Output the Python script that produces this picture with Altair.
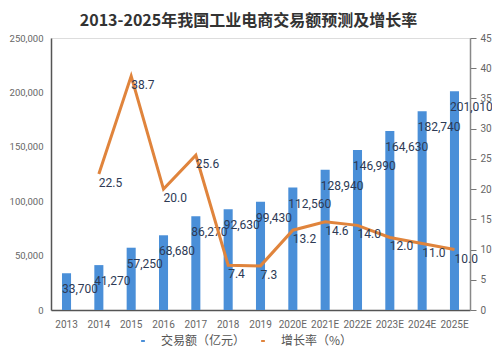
import altair as alt
import pandas as pd

years = ["2013", "2014", "2015", "2016", "2017", "2018", "2019",
         "2020E", "2021E", "2022E", "2023E", "2024E", "2025E"]
volume = [33700, 41270, 57250, 68680, 86270, 92630, 99430,
          112560, 128940, 146990, 164630, 182740, 201010]
growth = [None, 22.5, 38.7, 20.0, 25.6, 7.4, 7.3,
          13.2, 14.6, 14.0, 12.0, 11.0, 10.0]

s_bar = "交易额（亿元）"
s_line = "增长率（%）"

df = pd.DataFrame({
    "year": years,
    "volume": volume,
    "growth": growth,
    "s1": s_bar,
    "s2": s_line,
})
df["vol_label"] = [f"{v:,}" for v in volume]
df["g_label"] = [("" if g is None else f"{g:.1f}") for g in growth]

BLUE = "#4a8fd8"
ORANGE = "#e0843c"
TXT = "#2d3a55"
CJK = "Noto Sans CJK SC"

x = alt.X("year:N", sort=years, title=None,
          scale=alt.Scale(paddingInner=0.72, paddingOuter=0.34),
          axis=alt.Axis(labelAngle=0, labelColor="#666", labelFontSize=10,
                        labelFont="Roboto", ticks=False, domainColor="#555",
                        domainWidth=1.5, labelPadding=9, grid=False))

color = alt.Color("s:N", title=None,
                  scale=alt.Scale(domain=[s_bar, s_line], range=[BLUE, ORANGE]),
                  legend=alt.Legend(orient="none", legendX=86, legendY=297,
                                    direction="horizontal",
                                    symbolType="stroke", symbolStrokeWidth=2,
                                    symbolSize=14, labelFont=CJK,
                                    labelFontSize=12, labelColor="#555",
                                    labelOffset=12,
                                    columnPadding=11, padding=0))

y_left = alt.Y("volume:Q", title=None,
               scale=alt.Scale(domain=[0, 250000], nice=False),
               axis=alt.Axis(values=[0, 50000, 100000, 150000, 200000, 250000],
                             labelExpr="format(datum.value, ',')",
                             labelColor="#666", labelFontSize=9.5,
                             labelFont="Roboto", ticks=False, labelPadding=8,
                             domainColor="#555", domainWidth=1.5, grid=False))

bars = alt.Chart(df).transform_calculate(s="datum.s1").mark_bar(
    color=BLUE).encode(
    x=x, y=y_left, color=color)

bar_text = alt.Chart(df).mark_text(
    align="left", baseline="middle", dx=-4.5, dy=16, fontSize=12,
    font="Roboto", color=TXT).encode(
    x=x, y=y_left, text="vol_label:N")

y_right = alt.Y("growth:Q", title=None,
                scale=alt.Scale(domain=[0, 45], nice=False),
                axis=alt.Axis(orient="right",
                              values=[0, 5, 10, 15, 20, 25, 30, 35, 40, 45],
                              labelColor="#666", labelFontSize=10,
                              labelFont="Roboto", tickSize=6, tickColor="#777",
                              domainColor="#888", domainWidth=1.5,
                              labelPadding=4, grid=False))

line_df = df[df["growth"].notna()]

line = alt.Chart(line_df).transform_calculate(s="datum.s2").mark_line(
    color=ORANGE, strokeWidth=3).encode(
    x=x, y=y_right, color=color)

line_text = alt.Chart(line_df).mark_text(
    align="left", baseline="middle", dx=0, dy=9, fontSize=12,
    font="Roboto", color=TXT).encode(
    x=x, y=y_right, text="g_label:N")

chart = alt.layer(
    alt.layer(bars, bar_text),
    alt.layer(line, line_text),
).resolve_scale(y="independent").properties(
    width=419, height=272,
    autosize=alt.AutoSizeParams(type="none"),
    padding={"left": 43, "top": 30, "right": 22, "bottom": 40},
    title=alt.Title("2013-2025年我国工业电商交易额预测及增长率",
                    font=CJK, fontSize=16, fontWeight="bold", color="#333",
                    anchor="middle", offset=4, dx=-12),
).configure_view(stroke=None).configure(background="white")

chart.save("out.html", embed_options={"renderer": "svg", "actions": False})
